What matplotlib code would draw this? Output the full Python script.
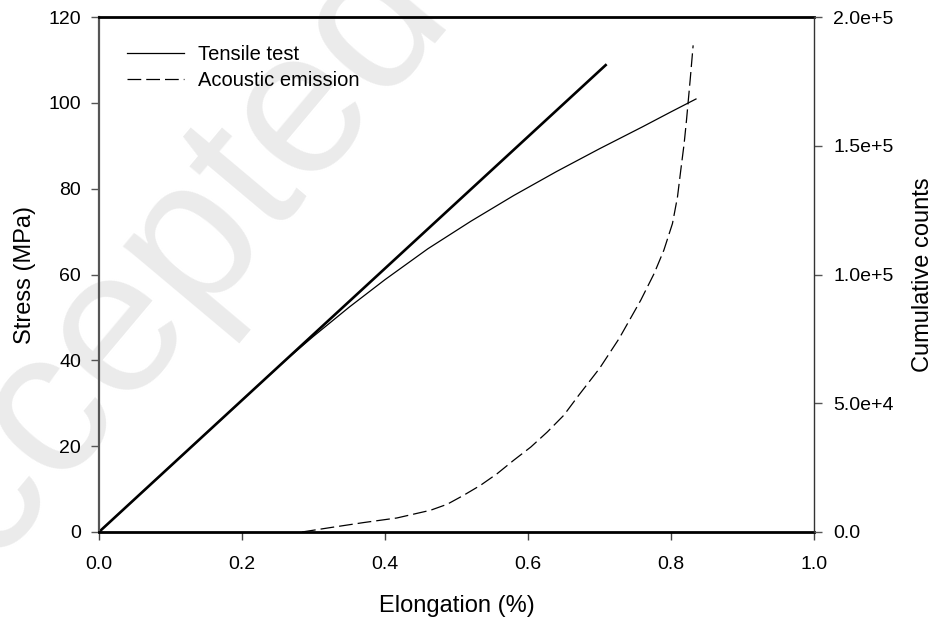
import numpy as np
import matplotlib
matplotlib.use("Agg")
import matplotlib.pyplot as plt

plt.rcParams["font.family"] = ["Liberation Sans", "DejaVu Sans"]

# -----------------------------
# Data
# -----------------------------
# elastic fit line (thick)
fit_x = [0.0, 0.710]
fit_y = [0.0, 109.0]

# tensile test curve (thin)
tensile_x = [0.0, 0.20, 0.26, 0.30, 0.35, 0.40, 0.46, 0.52, 0.58, 0.64, 0.70, 0.76, 0.80, 0.835]
tensile_y = [0.0, 30.7, 39.9, 45.6, 52.4, 58.8, 66.0, 72.4, 78.4, 84.0, 89.3, 94.4, 97.9, 100.9]

# acoustic emission cumulative counts (dashed, right axis)
ae_x = [0.284, 0.3235, 0.370, 0.4167, 0.4636, 0.487, 0.510, 0.5336, 0.557, 0.580, 0.604, 0.627,
        0.650, 0.671, 0.700, 0.7274, 0.7577, 0.7764, 0.790, 0.8021, 0.8091, 0.8137, 0.8184,
        0.8217, 0.8268, 0.831]
ae_y = [0, 1700, 3650, 5440, 8430, 10760, 14250, 18130, 22670, 27850, 33000, 38830,
        45300, 53100, 63500, 75100, 90000, 100350, 109400, 119800, 130100, 140500, 150800,
        159900, 175400, 189000]

x_ticks = [0.0, 0.2, 0.4, 0.6, 0.8, 1.0]
x_labels = ["0.0", "0.2", "0.4", "0.6", "0.8", "1.0"]
y_ticks = [0, 20, 40, 60, 80, 100, 120]
y2_ticks = [0, 5e4, 1e5, 1.5e5, 2e5]
y2_labels = ["0.0", "5.0e+4", "1.0e+5", "1.5e+5", "2.0e+5"]

fig = plt.figure(figsize=(9.41, 6.17), dpi=100)
ax = fig.add_axes([0.1052, 0.1378, 0.7598, 0.8346])

# watermark behind everything
fig.text(0.1488, 0.4927, "Accepted", fontsize=148, color="#ebebeb", rotation=50,
         ha="center", va="center", zorder=-5)
ax.set_facecolor("none")

ax.plot(fit_x, fit_y, color="black", lw=1.9, solid_capstyle="butt")
l1, = ax.plot(tensile_x, tensile_y, color="black", lw=0.9)

ax2 = ax.twinx()
l2, = ax2.plot(ae_x, ae_y, color="black", lw=0.9, ls=(0, (11, 4)))

ax.set_xlim(0, 1.0)
ax.set_ylim(0, 120)
ax2.set_ylim(0, 2.0e5)
ax.set_xticks(x_ticks)
ax.set_xticklabels(x_labels)
ax.set_yticks(y_ticks)
ax2.set_yticks(y2_ticks)
ax2.set_yticklabels(y2_labels)

ax.tick_params(axis="x", direction="out", length=6, width=1, colors="#444444",
               labelcolor="black", labelsize=14, pad=11)
ax.tick_params(axis="y", direction="out", length=6, width=1, colors="#555555",
               labelcolor="black", labelsize=14, pad=7)
ax2.tick_params(axis="y", direction="out", length=6, width=1, colors="#555555",
                labelcolor="black", labelsize=14, pad=8)
ax.spines["top"].set_linewidth(2.0)
ax.spines["bottom"].set_linewidth(2.0)
ax.spines["left"].set_color("#555555")
ax.spines["left"].set_linewidth(1.6)
ax.spines["right"].set_visible(False)
ax2.spines["right"].set_color("#333333")
ax2.spines["right"].set_linewidth(1.0)
for s in ("top", "bottom", "left"):
    ax2.spines[s].set_visible(False)

ax.set_xlabel("Elongation (%)", fontsize=17, labelpad=16)
ax.set_ylabel("Stress (MPa)", fontsize=17, labelpad=9)
ax2.set_ylabel("Cumulative counts", fontsize=17, labelpad=13, rotation=90)

ax.legend([l1, l2], ["Tensile test", "Acoustic emission"], loc="upper left",
          frameon=False, fontsize=14.5, handlelength=2.85, handletextpad=0.7,
          borderaxespad=0.0, borderpad=0.0, bbox_to_anchor=(0.039, 0.945),
          labelspacing=0.35)

fig.savefig("out.png", dpi=100)
